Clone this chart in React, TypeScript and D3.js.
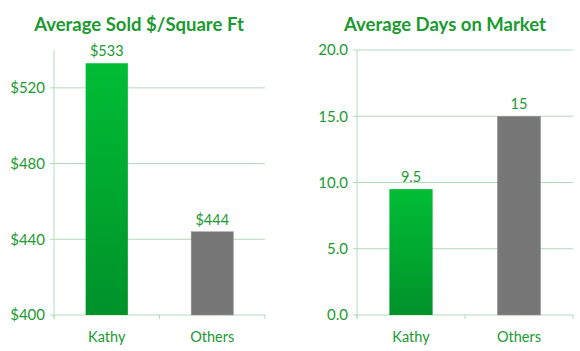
import React from 'react';
import * as d3 from 'd3';

const categories = ['Kathy', 'Others'];
const soldPerSqFt = [533, 444];
const soldLabels = ['$533', '$444'];
const soldTicks = [400, 440, 480, 520];
const daysOnMarket = [9.5, 15];
const daysLabels = ['9.5', '15'];
const daysTicks = [0, 5, 10, 15, 20];

const TEXT = '#1a9a30';
const GRID = '#b3d9bb';
const FONT = 'Lato, "Open Sans", sans-serif';

type PanelProps = {
  title: string;
  titleX: number;
  left: number;
  right: number;
  values: number[];
  labels: string[];
  ticks: number[];
  domain: [number, number];
  tickFormat: (v: number) => string;
};

const Panel = ({ title, titleX, left, right, values, labels, ticks, domain, tickFormat }: PanelProps) => {
  const top = 50;
  const bottom = 315;
  const y = d3.scaleLinear().domain(domain).range([bottom, top]);
  const x = d3.scaleBand().domain(categories).range([left, right]).paddingInner(0.6).paddingOuter(0.3);

  return (
    <g>
      <text x={titleX} y={31} textAnchor="middle" fill={TEXT} fontWeight="bold" fontSize={18.5} fontFamily={FONT}>
        {title}
      </text>
      {ticks.slice(1).map(t => (
        <line key={t} x1={left - 4} x2={right} y1={y(t)} y2={y(t)} stroke={GRID} strokeWidth={1} />
      ))}
      {ticks.map(t => (
        <text key={'l' + t} x={left - 9} y={y(t)} dy="0.35em" textAnchor="end" fill={TEXT} fontSize={15} fontFamily={FONT}>
          {tickFormat(t)}
        </text>
      ))}
      {/* axes */}
      <line x1={left} x2={left} y1={top} y2={bottom + 4} stroke={GRID} />
      <line x1={left - 4} x2={right} y1={bottom} y2={bottom} stroke={GRID} />
      {[left, (left + right) / 2, right].map((tx, i) => (
        <line key={'t' + i} x1={tx} x2={tx} y1={bottom} y2={bottom + 4} stroke={GRID} />
      ))}
      {categories.map((c, i) => {
        const bx = x(c)!;
        const yv = y(values[i]);
        return (
          <g key={c}>
            <rect
              x={bx}
              y={yv}
              width={x.bandwidth()}
              height={bottom - yv}
              fill={i === 0 ? 'url(#greenGrad)' : '#777777'}
              stroke={i === 0 ? 'none' : '#9a9a9a'}
              strokeWidth={0.5}
            />
            <text x={bx + x.bandwidth() / 2} y={yv - 7} textAnchor="middle" fill={TEXT} fontSize={14.5} fontFamily={FONT}>
              {labels[i]}
            </text>
            <text x={bx + x.bandwidth() / 2} y={bottom + 22} dy="0.35em" textAnchor="middle" fill={TEXT} fontSize={14.5} fontFamily={FONT}>
              {c}
            </text>
          </g>
        );
      })}
    </g>
  );
};

const App = () => {
  return (
    <svg width={580} height={351} style={{ position: 'absolute', left: 0, top: 0, background: '#fff' }}>
      <defs>
        <linearGradient id="greenGrad" x1="0" y1="0" x2="0" y2="1">
          <stop offset="0%" stopColor="#00bd35" />
          <stop offset="100%" stopColor="#00922a" />
        </linearGradient>
      </defs>
      <Panel
        title="Average Sold $/Square Ft"
        titleX={139}
        left={54}
        right={265}
        values={soldPerSqFt}
        labels={soldLabels}
        ticks={soldTicks}
        domain={[400, 540]}
        tickFormat={v => '$' + v}
      />
      <Panel
        title="Average Days on Market"
        titleX={445}
        left={357}
        right={573}
        values={daysOnMarket}
        labels={daysLabels}
        ticks={daysTicks}
        domain={[0, 20]}
        tickFormat={v => v.toFixed(1)}
      />
    </svg>
  );
};

export default App;
